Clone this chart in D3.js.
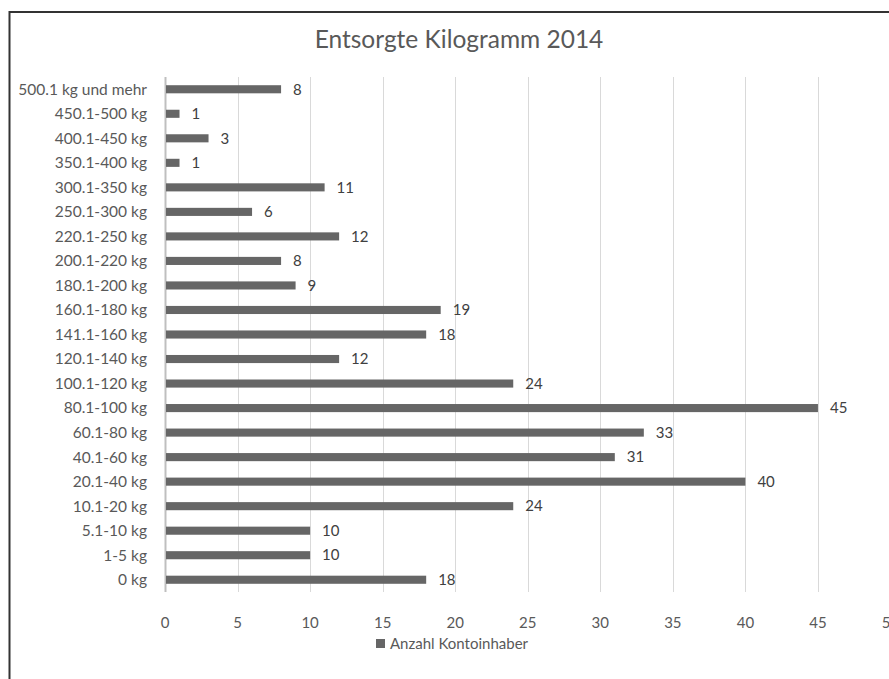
<!DOCTYPE html>
<html>
<head>
<meta charset="utf-8">
<script src="https://cdn.jsdelivr.net/npm/d3@7"></script>
<style>
  body { margin: 0; background: #fff; }
  svg { display: block; font-family: Lato, "Open Sans", sans-serif; }
</style>
</head>
<body>
<div id="chart"></div>
<script>
// categories bottom to top, as in the picture
const categories = ['0 kg', '1-5 kg', '5.1-10 kg', '10.1-20 kg', '20.1-40 kg', '40.1-60 kg',
  '60.1-80 kg', '80.1-100 kg', '100.1-120 kg', '120.1-140 kg', '141.1-160 kg', '160.1-180 kg',
  '180.1-200 kg', '200.1-220 kg', '220.1-250 kg', '250.1-300 kg', '300.1-350 kg', '350.1-400 kg',
  '400.1-450 kg', '450.1-500 kg', '500.1 kg und mehr'];
const values = [18, 10, 10, 24, 40, 31, 33, 45, 24, 12, 18, 19, 9, 8, 12, 6, 11, 1, 3, 1, 8];
const xTicks = [0, 5, 10, 15, 20, 25, 30, 35, 40, 45, 50];
const title = 'Entsorgte Kilogramm 2014';
const seriesName = 'Anzahl Kontoinhaber';

const width = 889, height = 679;
const margin = { top: 77, left: 165, bottom: 87 };
const plotW = 725.5;
const plotH = height - margin.top - margin.bottom;

const svg = d3.select('#chart').append('svg')
  .attr('width', width)
  .attr('height', height);

// chart border
svg.append('rect')
  .attr('x', 9.5).attr('y', 12)
  .attr('width', 900).attr('height', 700)
  .attr('fill', 'none')
  .attr('stroke', '#333')
  .attr('stroke-width', 2);

svg.append('text')
  .attr('x', 459).attr('y', 48)
  .attr('text-anchor', 'middle')
  .attr('fill', '#595959')
  .style('font-size', '24.5px')
  .text(title);

const g = svg.append('g').attr('transform', 'translate(' + margin.left + ',' + margin.top + ')');

const x = d3.scaleLinear().domain([0, 50]).range([0, plotW]);
const y = d3.scaleBand().domain(categories.slice().reverse()).range([0, plotH]).paddingInner(0.67).paddingOuter(0.335);

// gridlines
g.append('g')
  .selectAll('line')
  .data(xTicks)
  .enter().append('line')
  .attr('x1', d => Math.round(x(d)) + 0.5)
  .attr('x2', d => Math.round(x(d)) + 0.5)
  .attr('y1', 0)
  .attr('y2', plotH)
  .attr('stroke', d => d === 0 ? '#bfbfbf' : '#d9d9d9')
  .attr('stroke-width', d => d === 0 ? 2 : 1);

// x tick labels
g.append('g')
  .selectAll('text')
  .data(xTicks)
  .enter().append('text')
  .attr('x', d => x(d))
  .attr('y', plotH + 36)
  .attr('text-anchor', 'middle')
  .attr('fill', '#595959')
  .style('font-size', '15px')
  .text(d => d);

// category labels
g.append('g')
  .selectAll('text')
  .data(categories)
  .enter().append('text')
  .attr('x', -18)
  .attr('y', d => y(d) + y.bandwidth() / 2)
  .attr('dy', '0.35em')
  .attr('text-anchor', 'end')
  .attr('fill', '#595959')
  .style('font-size', '15.5px')
  .text(d => d);

const rows = categories.map((c, i) => ({ label: c, value: values[i] }));

g.append('g')
  .selectAll('rect')
  .data(rows)
  .enter().append('rect')
  .attr('x', 1)
  .attr('y', d => y(d.label))
  .attr('width', d => x(d.value) - 1)
  .attr('height', y.bandwidth())
  .attr('fill', '#666666');

g.append('g')
  .selectAll('text')
  .data(rows)
  .enter().append('text')
  .attr('x', d => x(d.value) + 12)
  .attr('y', d => y(d.label) + y.bandwidth() / 2)
  .attr('dy', '0.35em')
  .attr('fill', '#404040')
  .style('font-size', '15px')
  .text(d => d.value);

// legend
const legend = svg.append('g').attr('transform', 'translate(376,639)');
legend.append('rect').attr('width', 9).attr('height', 9).attr('fill', '#666666');
legend.append('text')
  .attr('x', 14).attr('y', 5)
  .attr('dy', '0.35em')
  .attr('fill', '#595959')
  .style('font-size', '15px')
  .text(seriesName);
</script>
</body>
</html>
